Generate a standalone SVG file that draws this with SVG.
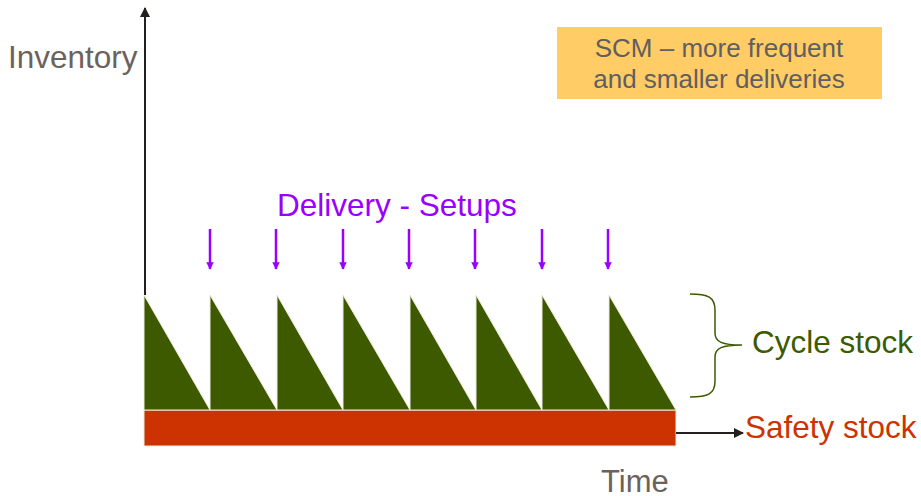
<svg xmlns="http://www.w3.org/2000/svg" width="921" height="496" viewBox="0 0 921 496">
<defs>
<style>
text{font-family:"Liberation Sans",Arial,sans-serif}
.axis{stroke:#231f1c;stroke-width:2;fill:none}
.tri{fill:#3d5a00;stroke:#eeeade;stroke-width:1}
.dl{stroke:#9900ff;stroke-width:2.5}
</style>
<marker id="ah" viewBox="0 0 10 10" refX="9" refY="5" markerWidth="5" markerHeight="5" orient="auto"><path d="M0,0L10,5L0,10z" fill="#231f1c"/></marker>
<marker id="ap" viewBox="0 0 10 10" refX="9" refY="5" markerWidth="3" markerHeight="3" orient="auto"><path d="M0,0L10,5L0,10z" fill="#9900ff"/></marker>
</defs>
<g id="note">
<rect x="557" y="27" width="325" height="72" fill="#ffcc66"/>
<text x="719" y="57" font-size="26" fill="#5f5f5f" text-anchor="middle">SCM – more frequent</text>
<text x="719" y="88" font-size="26" fill="#5f5f5f" text-anchor="middle">and smaller deliveries</text>
</g>
<g id="labels">
<text x="8" y="68" font-size="31.5" fill="#6b635b">Inventory</text>
<text x="601" y="491.5" font-size="31" fill="#6b635b">Time</text>
<text x="277" y="216" font-size="31.5" fill="#9900ff">Delivery - Setups</text>
<text x="752" y="353" font-size="31.5" fill="#3d5a00">Cycle stock</text>
<text x="745" y="438" font-size="31.5" fill="#cc3300">Safety stock</text>
</g>
<g id="safety">
<rect x="144" y="410" width="532" height="36" fill="#cc3300" stroke="#eeeade" stroke-width="1"/>
</g>
<g id="cycle">
<polygon class="tri" points="144,295 144,410 210,410"/>
<polygon class="tri" points="210,295 210,410 277,410"/>
<polygon class="tri" points="277,295 277,410 343,410"/>
<polygon class="tri" points="343,295 343,410 410,410"/>
<polygon class="tri" points="410,295 410,410 476,410"/>
<polygon class="tri" points="476,295 476,410 542,410"/>
<polygon class="tri" points="542,295 542,410 609,410"/>
<polygon class="tri" points="609,295 609,410 676,410"/>
</g>
<g id="connectors">
<line class="axis" x1="145" y1="295" x2="145" y2="8" marker-end="url(#ah)"/>
<line class="axis" x1="676" y1="433" x2="743" y2="433" marker-end="url(#ah)"/>
<line class="dl" x1="210" y1="229" x2="210" y2="269" marker-end="url(#ap)"/>
<line class="dl" x1="276" y1="229" x2="276" y2="269" marker-end="url(#ap)"/>
<line class="dl" x1="343" y1="229" x2="343" y2="269" marker-end="url(#ap)"/>
<line class="dl" x1="409" y1="229" x2="409" y2="269" marker-end="url(#ap)"/>
<line class="dl" x1="475" y1="229" x2="475" y2="269" marker-end="url(#ap)"/>
<line class="dl" x1="542" y1="229" x2="542" y2="269" marker-end="url(#ap)"/>
<line class="dl" x1="608" y1="229" x2="608" y2="269" marker-end="url(#ap)"/>
<path d="M690,294 C708,294 715,297 715,310 L715,333 C715,342 722,345 742,345 C722,345 715,348 715,357 L715,381 C715,394 708,397 690,397" fill="none" stroke="#3d5a00" stroke-width="1.5"/>
</g>
</svg>
